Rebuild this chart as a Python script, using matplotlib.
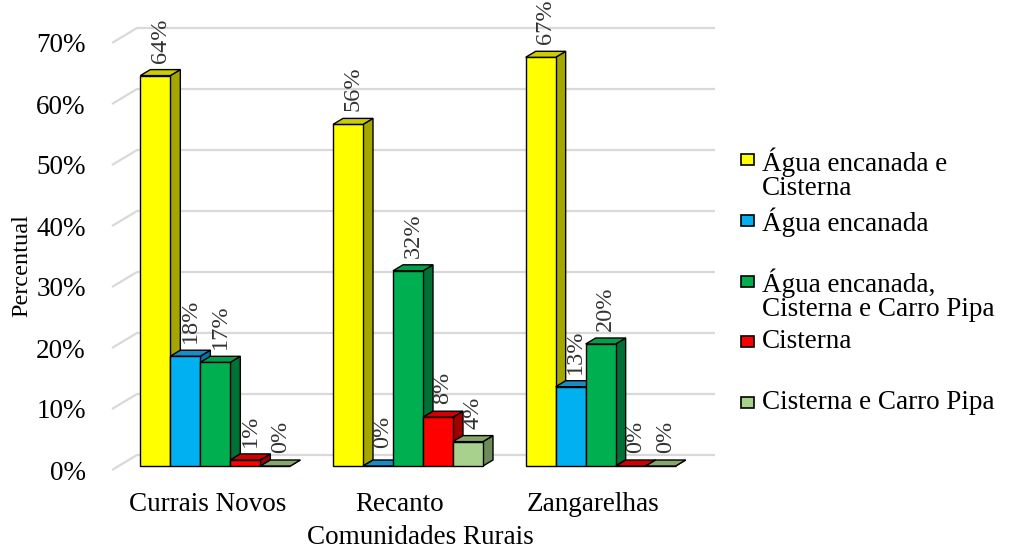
import matplotlib.pyplot as plt
from matplotlib.patches import Polygon, Rectangle
from matplotlib.transforms import ScaledTranslation

# ---- data -------------------------------------------------------------
comunidades = ['Currais Novos', 'Recanto', 'Zangarelhas']
series_labels = ['Água encanada e\nCisterna',
                 'Água encanada',
                 'Água encanada,\nCisterna e Carro Pipa',
                 'Cisterna',
                 'Cisterna e Carro Pipa']
agua_cisterna = [64, 56, 67]
agua = [18, 0, 13]
agua_cisterna_pipa = [17, 32, 20]
cisterna = [1, 8, 0]
cisterna_pipa = [0, 4, 0]
values = [agua_cisterna, agua, agua_cisterna_pipa, cisterna, cisterna_pipa]
y_ticks = [0, 10, 20, 30, 40, 50, 60, 70]

# ---- styling ------------------------------------------------------------
front_colors = ['#FFFF00', '#00B0F0', '#00B050', '#FF0000', '#A9D18E']
top_colors = ['#CCCC00', '#1A8CC4', '#00A04A', '#D00000', '#86A66C']
side_colors = ['#A6A600', '#0077A8', '#007035', '#A00000', '#6E8A58']
SERIF = 'Liberation Serif'
FS = 19.5

W_PX, H_PX, DPI = 1014, 550, 100
fig = plt.figure(figsize=(W_PX / DPI, H_PX / DPI), dpi=DPI)
fig.patch.set_facecolor('white')

# axes = front plane of the bars
ax_l, ax_r, ax_b, ax_t = 119, 697, 466, 39
ax = fig.add_axes([ax_l / W_PX, 1 - ax_b / H_PX,
                   (ax_r - ax_l) / W_PX, (ax_b - ax_t) / H_PX])
ax.set_xlim(-0.5, 2.5)
ax.set_ylim(0, 70)
for s in ax.spines.values():
    s.set_visible(False)

px_x = (ax_r - ax_l) / 3.0          # pixels per x unit
px_y = (ax_b - ax_t) / 70.0         # pixels per percent


def dxu(px):
    return px / px_x


def dyu(px):
    return px / px_y


# depth offsets (in data units)
wall_dx, wall_dy = dxu(18), dyu(11)      # back wall relative to bar fronts
floor_dx, floor_dy = dxu(-7), dyu(-4)    # front edge of the floor
bar_dx, bar_dy = dxu(10), dyu(6)         # depth of each bar

# back-wall gridlines with the diagonal on the side wall
x0, x1 = ax.get_xlim()
for v in y_ticks:
    ax.plot([x0 + floor_dx, x0 + wall_dx, x1 + wall_dx],
            [v + floor_dy, v + wall_dy, v + wall_dy],
            color='#D9D9D9', lw=1.6, zorder=0, clip_on=False,
            solid_capstyle='butt')

# 3-D looking columns
bw = dxu(30)
n = len(values)
for k, vals in enumerate(values):
    xs = [i + (k - (n - 1) / 2) * bw for i in range(len(comunidades))]
    z = 3 + 3 * k
    ax.bar(xs, vals, width=bw, color=front_colors[k],
           edgecolor='black', linewidth=1.0, zorder=z + 1, clip_on=False)
    for xc, h in zip(xs, vals):
        xa, xb = xc - bw / 2, xc + bw / 2
        side = Polygon([(xb, 0), (xb + bar_dx, bar_dy),
                        (xb + bar_dx, h + bar_dy), (xb, h)],
                       closed=True, facecolor=side_colors[k],
                       edgecolor='black', lw=1.0, zorder=z, clip_on=False)
        top = Polygon([(xa, h), (xb, h), (xb + bar_dx, h + bar_dy),
                       (xa + bar_dx, h + bar_dy)],
                      closed=True, facecolor=top_colors[k],
                      edgecolor='black', lw=1.0, zorder=z + 2, clip_on=False)
        ax.add_patch(side)
        ax.add_patch(top)
        gap = 12 if h == 0 and k == 1 else 7
        ax.text(xc + bar_dx / 2, h + bar_dy + dyu(gap), f'{h}%',
                rotation=90, ha='center', va='bottom', family=SERIF,
                fontsize=17.5, color='#333333', zorder=30, clip_on=False)

# axes ticks and labels
ax.set_yticks(y_ticks)
ax.set_yticklabels([f'{v}%' for v in y_ticks], family=SERIF, fontsize=FS)
ax.tick_params(axis='y', length=0, pad=24)
ax.set_xticks(range(len(comunidades)))
ax.set_xticklabels(comunidades, family=SERIF, fontsize=FS)
ax.tick_params(axis='x', length=0, pad=19)
for lbl in ax.get_yticklabels():
    lbl.set_transform(lbl.get_transform() +
                      ScaledTranslation(0, -4 / DPI, fig.dpi_scale_trans))
for lbl in ax.get_xticklabels():
    lbl.set_transform(lbl.get_transform() +
                      ScaledTranslation(-8 / DPI, 0, fig.dpi_scale_trans))

fig.text(22 / W_PX, 1 - 266 / H_PX, 'Percentual', rotation=90,
         ha='center', va='center', family=SERIF, fontsize=17.5)
fig.text(420 / W_PX, 1 - 537 / H_PX, 'Comunidades Rurais',
         ha='center', va='center', family=SERIF, fontsize=FS)

# legend
for k, lab in enumerate(series_labels):
    yc = 160 + 60.75 * k
    fig.patches.append(Rectangle((741 / W_PX, 1 - (yc + 5) / H_PX),
                                 13 / W_PX, 11 / H_PX,
                                 transform=fig.transFigure,
                                 facecolor=front_colors[k],
                                 edgecolor='black', lw=1.2))
    fig.text(762 / W_PX, 1 - (yc - 13) / H_PX, lab, ha='left', va='top',
             family=SERIF, fontsize=FS, linespacing=0.97)

fig.savefig('out.png', dpi=DPI, facecolor='white')
